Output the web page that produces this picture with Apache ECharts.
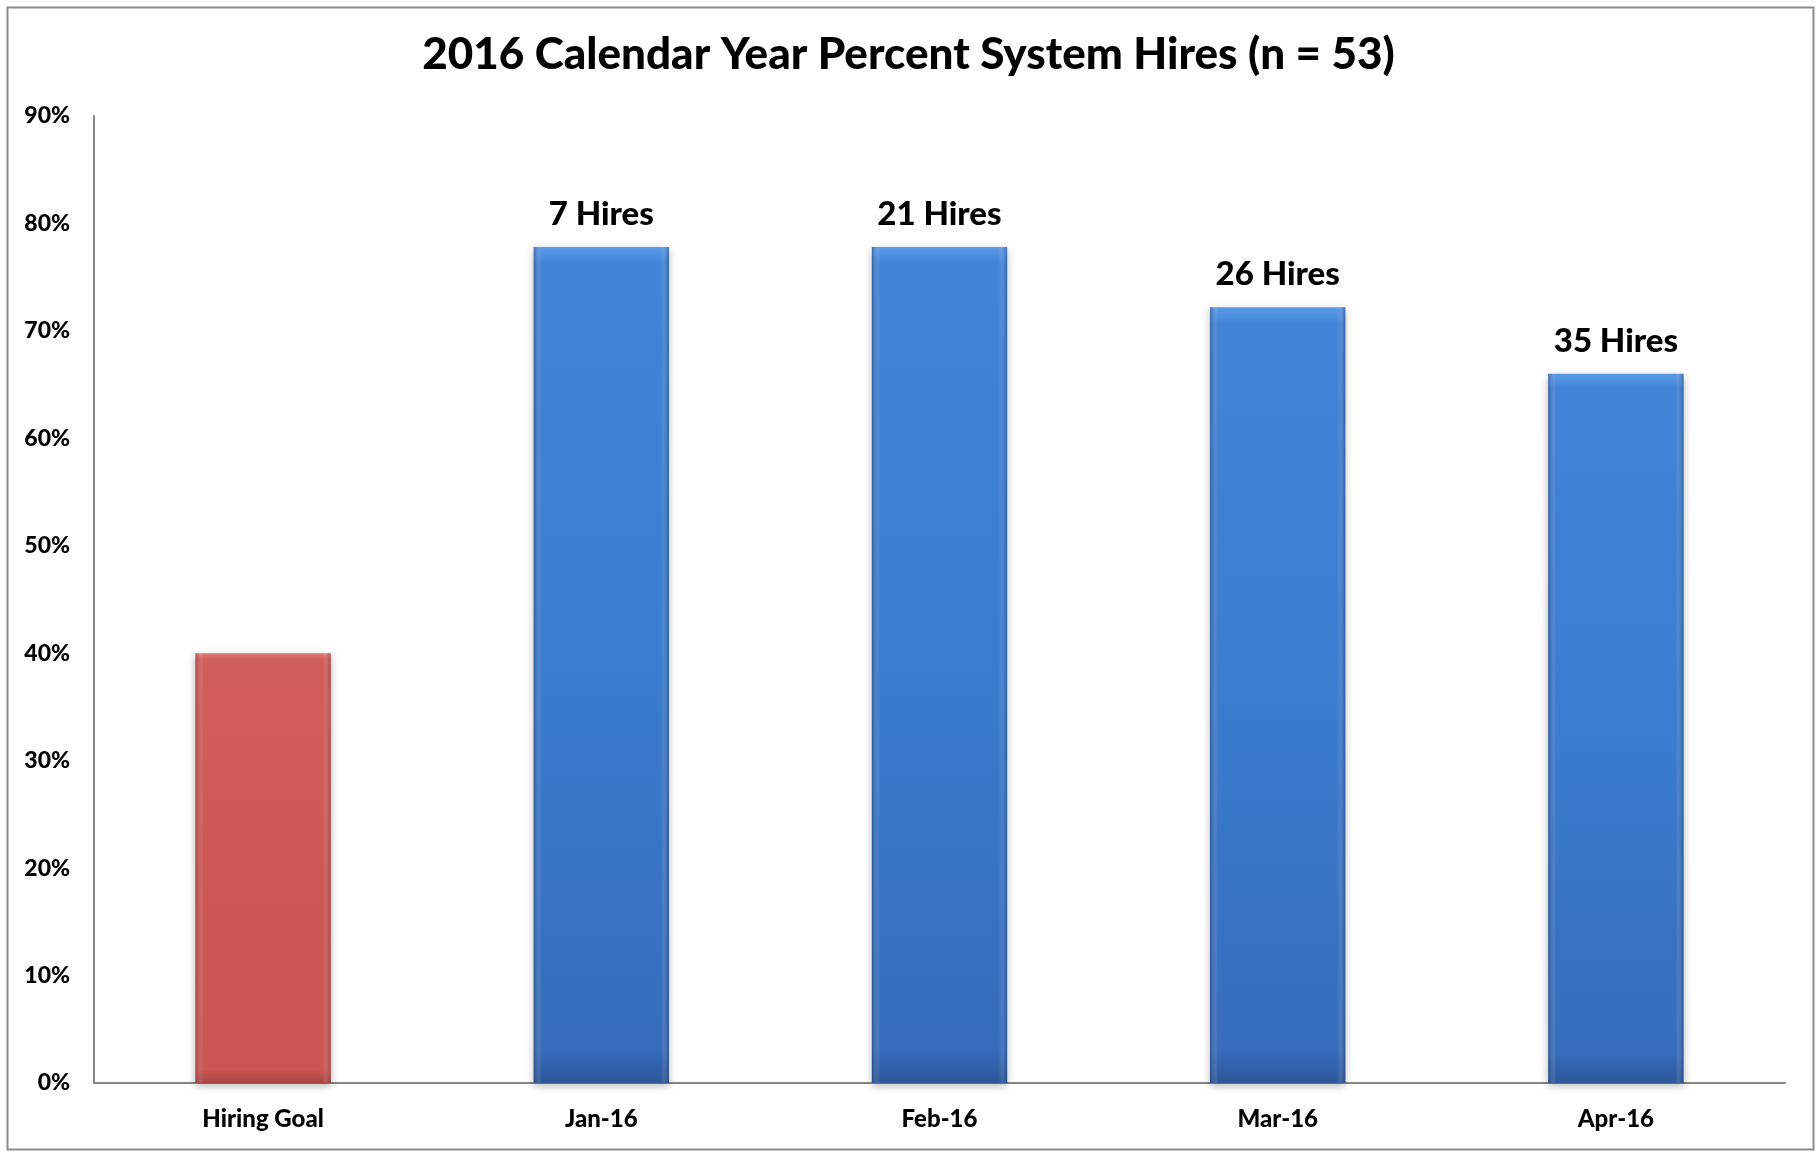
<!DOCTYPE html>
<html>
<head>
<meta charset="utf-8">
<title>2016 Calendar Year Percent System Hires</title>
<script src="https://cdn.jsdelivr.net/npm/echarts@6/dist/echarts.min.js"></script>
<style>
  html, body { margin: 0; padding: 0; background: #ffffff; }
  #chart { width: 1817px; height: 1152px; }
</style>
</head>
<body>
<div id="chart"></div>
<script>
// Categories along the x axis
const categories = ['Hiring Goal', 'Jan-16', 'Feb-16', 'Mar-16', 'Apr-16'];
// Percent of hires made through the system (cumulative, calendar year 2016)
const percentValues = [40, 77.8, 77.8, 72.2, 66.0];
// Cumulative hire counts shown above each month bar (none for the goal)
const hireCounts = [null, 7, 21, 26, 35];
// Y axis range and step (percent)
const yMin = 0, yMax = 90, yStep = 10;

const FONT = 'Lato, "Noto Sans", sans-serif';
const HEAVY = 900;

function fillFor(i) {
  if (i === 0) {
    return new echarts.graphic.LinearGradient(0, 0, 0, 1, [
      { offset: 0, color: '#e07a77' },
      { offset: 0.015, color: '#d05e5b' },
      { offset: 0.5, color: '#cd5855' },
      { offset: 0.97, color: '#c95653' },
      { offset: 1, color: '#a94644' }
    ]);
  }
  return new echarts.graphic.LinearGradient(0, 0, 0, 1, [
    { offset: 0, color: '#5b9be8' },
    { offset: 0.02, color: '#4184d8' },
    { offset: 0.5, color: '#3a7ccf' },
    { offset: 0.96, color: '#366cbb' },
    { offset: 1, color: '#2c5799' }
  ]);
}

function edgeShade(i) {
  const dark = i === 0 ? 'rgba(120,35,33,0.45)' : 'rgba(20,50,105,0.45)';
  const clear = 'rgba(255,255,255,0)';
  return new echarts.graphic.LinearGradient(0, 0, 1, 0, [
    { offset: 0, color: dark },
    { offset: 0.06, color: clear },
    { offset: 0.94, color: clear },
    { offset: 1, color: dark }
  ]);
}

const chart = echarts.init(document.getElementById('chart'), null, { renderer: 'canvas' });

chart.setOption({
  animation: false,
  backgroundColor: '#ffffff',
  title: {
    text: '2016 Calendar Year Percent System Hires (n = 53)',
    left: 'center',
    top: 28,
    textStyle: { fontFamily: FONT, fontWeight: HEAVY, fontSize: 44, color: '#000000' }
  },
  graphic: [{
    type: 'rect',
    left: 5, top: 5,
    shape: { width: 1806, height: 1142 },
    style: { fill: 'none', stroke: '#8c8c8c', lineWidth: 2 },
    silent: true
  }],
  grid: { left: 94, right: 32, top: 116, bottom: 69, containLabel: false },
  xAxis: {
    type: 'category',
    data: categories,
    axisLine: { lineStyle: { color: '#868686', width: 2 } },
    axisTick: { show: false },
    axisLabel: {
      margin: 24,
      fontFamily: FONT, fontWeight: HEAVY, fontSize: 24, color: '#000000'
    }
  },
  yAxis: {
    type: 'value',
    min: yMin, max: yMax, interval: yStep,
    splitLine: { show: false },
    axisLine: { show: true, lineStyle: { color: '#868686', width: 2 } },
    axisTick: { show: false },
    axisLabel: {
      margin: 24,
      formatter: '{value}%',
      fontFamily: FONT, fontWeight: HEAVY, fontSize: 23, color: '#000000'
    }
  },
  series: [
    {
      type: 'bar',
      barWidth: '40%',
      data: percentValues.map((v, i) => ({
        value: v,
        itemStyle: {
          color: fillFor(i),
          shadowBlur: 8,
          shadowColor: 'rgba(0,0,0,0.28)',
          shadowOffsetY: 3
        }
      })),
      label: {
        show: true,
        position: 'top',
        distance: 16,
        fontFamily: FONT, fontWeight: HEAVY, fontSize: 33, color: '#000000',
        formatter: p => hireCounts[p.dataIndex] == null ? '' : hireCounts[p.dataIndex] + ' Hires'
      }
    },
    {
      type: 'bar',
      barWidth: '40%',
      barGap: '-100%',
      silent: true,
      z: 3,
      data: percentValues.map((v, i) => ({ value: v, itemStyle: { color: edgeShade(i) } }))
    }
  ]
});
</script>
</body>
</html>
